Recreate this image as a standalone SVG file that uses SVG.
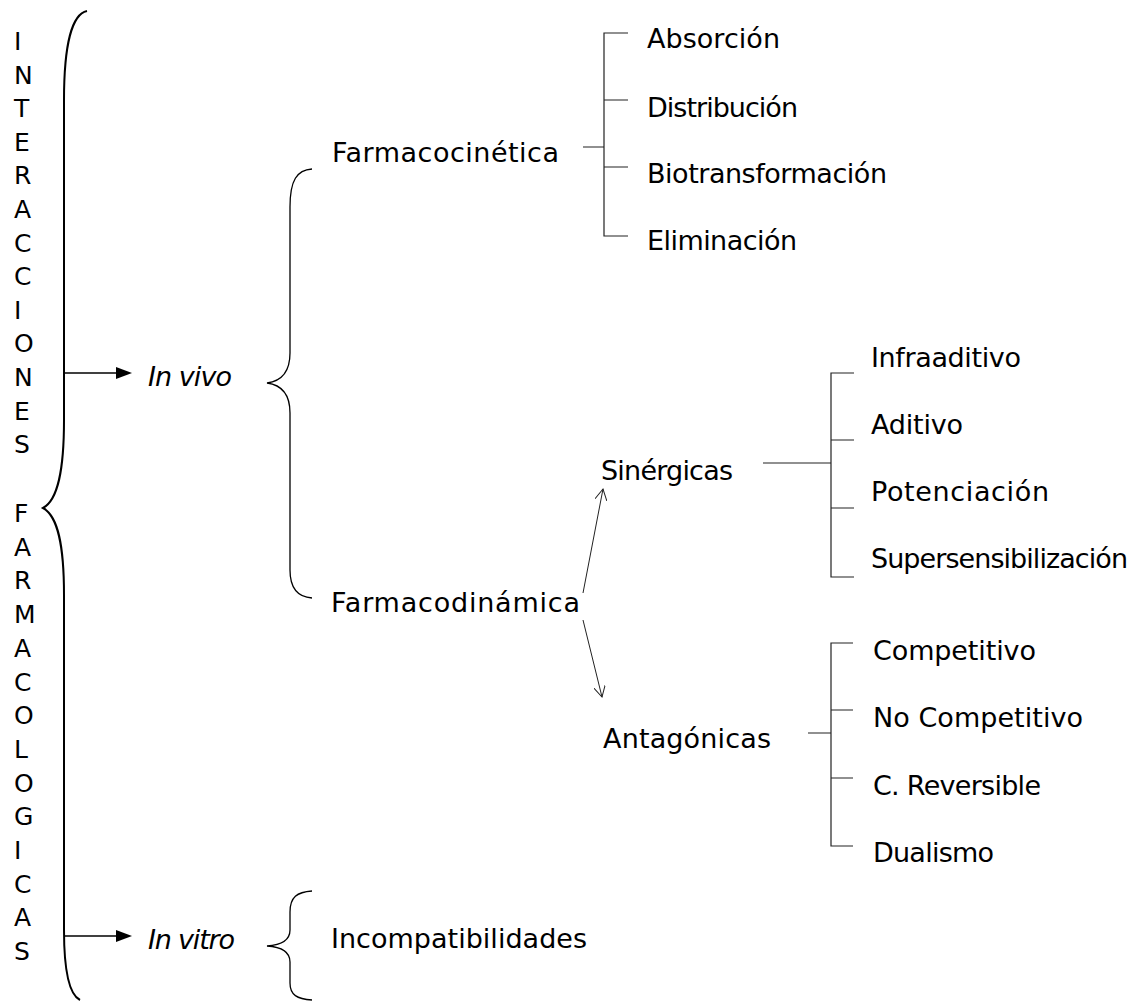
<svg xmlns="http://www.w3.org/2000/svg" width="1137" height="1001" viewBox="0 0 1137 1001">
<defs>
<style>
text{font-family:"DejaVu Sans","Liberation Sans",sans-serif;font-size:27px;fill:#000}
.col{font-size:25px}
.it{font-style:italic}
.br{fill:none;stroke:#000;stroke-width:1.3}
.big{fill:none;stroke:#000;stroke-width:2}
.ln{fill:none;stroke:#222;stroke-width:1.2}
.th{fill:none;stroke:#222;stroke-width:1}
</style>
<marker id="open" viewBox="0 0 12 12" refX="11" refY="6" markerWidth="12" markerHeight="12" markerUnits="userSpaceOnUse" orient="auto">
<path d="M0,0 L11,6 L0,12" fill="none" stroke="#222" stroke-width="1"/>
</marker>
</defs>
<rect width="1137" height="1001" fill="#fff"/>

<g id="title" class="col">
<text class="col" x="14" y="50">I</text>
<text class="col" x="14" y="83.6">N</text>
<text class="col" x="14" y="117.2">T</text>
<text class="col" x="14" y="150.8">E</text>
<text class="col" x="14" y="184.4">R</text>
<text class="col" x="14" y="218">A</text>
<text class="col" x="14" y="251.6">C</text>
<text class="col" x="14" y="285.2">C</text>
<text class="col" x="14" y="318.8">I</text>
<text class="col" x="14" y="352.4">O</text>
<text class="col" x="14" y="386">N</text>
<text class="col" x="14" y="419.6">E</text>
<text class="col" x="14" y="453.2">S</text>
<text class="col" x="14" y="522">F</text>
<text class="col" x="14" y="555.7">A</text>
<text class="col" x="14" y="589.4">R</text>
<text class="col" x="14" y="623.1">M</text>
<text class="col" x="14" y="656.8">A</text>
<text class="col" x="14" y="690.5">C</text>
<text class="col" x="14" y="724.2">O</text>
<text class="col" x="14" y="757.9">L</text>
<text class="col" x="14" y="791.6">O</text>
<text class="col" x="14" y="825.3">G</text>
<text class="col" x="14" y="859">I</text>
<text class="col" x="14" y="892.7">C</text>
<text class="col" x="14" y="926.4">A</text>
<text class="col" x="14" y="960">S</text>
<path class="big" d="M87,11 C72,14 64,45 64,100 L64,420 C64,470 58,500 43,508 C58,516 64,545 64,595 L64,930 C64,975 70,995 80,1000"/>
</g>

<g id="invivo">
<text class="it" x="148" y="386" textLength="84">In vivo</text>
<path class="br" d="M312,169 C297,170 290,180 290,207 L290,353 C290,372 282,381 267,383 C282,385 290,394 290,413 L290,570 C290,588 297,597 312,598"/>
</g>

<g id="invitro">
<text class="it" x="148" y="949" textLength="87">In vitro</text>
<path class="br" d="M312,891 C297,892 290,897 290,912 L290,930 C290,940 282,945 267,946 C282,947 290,952 290,962 L290,983 C290,995 297,999 312,1000"/>
</g>

<g id="farmacocinetica">
<text x="332" y="162" textLength="227">Farmacocinética</text>
</g>
<g id="farmacodinamica">
<text x="331" y="612" textLength="249">Farmacodinámica</text>
</g>
<g id="incompatibilidades">
<text x="331" y="948" textLength="256">Incompatibilidades</text>
</g>

<g id="absorcion"><text x="647" y="48" textLength="133">Absorción</text></g>
<g id="distribucion"><text x="647" y="117" textLength="151">Distribución</text></g>
<g id="biotransformacion"><text x="647" y="183" textLength="240">Biotransformación</text></g>
<g id="eliminacion"><text x="647" y="250" textLength="150">Eliminación</text></g>

<g id="sinergicas"><text x="601" y="480" textLength="132">Sinérgicas</text></g>
<g id="antagonicas"><text x="603" y="748" textLength="168">Antagónicas</text></g>

<g id="infraaditivo"><text x="871" y="367" textLength="150">Infraaditivo</text></g>
<g id="aditivo"><text x="871" y="434" textLength="92">Aditivo</text></g>
<g id="potenciacion"><text x="871" y="501" textLength="178">Potenciación</text></g>
<g id="supersensibilizacion"><text x="871" y="568" textLength="257">Supersensibilización</text></g>

<g id="competitivo"><text x="873" y="660" textLength="163">Competitivo</text></g>
<g id="nocompetitivo"><text x="873" y="727" textLength="210">No Competitivo</text></g>
<g id="creversible"><text x="873" y="795" textLength="168">C. Reversible</text></g>
<g id="dualismo"><text x="873" y="862" textLength="121">Dualismo</text></g>

<g id="connectors">
<line class="big" x1="64" y1="373" x2="120" y2="373" style="stroke-width:1.6"/>
<polygon points="132,373 116,367 116,379" fill="#000"/>
<line class="big" x1="64" y1="936" x2="120" y2="936" style="stroke-width:1.6"/>
<polygon points="132,936 116,930 116,942" fill="#000"/>

<path class="ln" d="M583,147 H604 M628,33 H604 V236 H628 M604,100 H628 M604,167 H628"/>

<line class="th" x1="583" y1="593" x2="603" y2="489" marker-end="url(#open)"/>
<line class="th" x1="583" y1="620" x2="602" y2="697" marker-end="url(#open)"/>

<path class="ln" d="M763,463 H831 M854,373 H831 V577 H854 M831,440 H854 M831,508 H854"/>
<path class="ln" d="M808,733 H831 M853,643 H831 V846 H853 M831,710 H853 M831,778 H853"/>
</g>
</svg>
